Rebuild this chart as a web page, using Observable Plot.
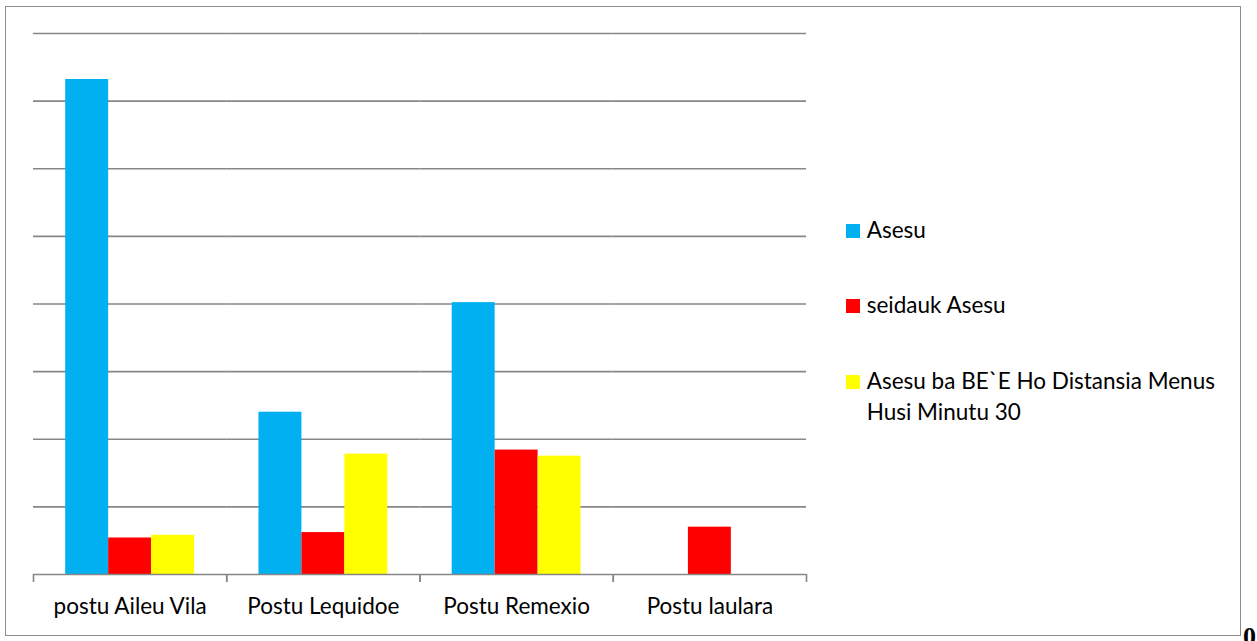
<!DOCTYPE html>
<html>
<head>
<meta charset="utf-8">
<script src="https://cdn.jsdelivr.net/npm/d3@7"></script>
<script src="https://cdn.jsdelivr.net/npm/@observablehq/plot@0.6"></script>
<style>
  html, body { margin: 0; padding: 0; background: #fff; overflow: hidden; }
  #wrap { position: relative; width: 1257px; height: 641px; font-family: Lato, sans-serif; color: #000; overflow: hidden; }
  #chart { position: absolute; left: 0; top: 0; }
  #border { position: absolute; left: 5px; top: 6px; width: 1236px; height: 630px; box-sizing: border-box; border: 1.5px solid #8c8c8c; pointer-events: none; }
  .lg { position: absolute; left: 846px; font-size: 22.5px; line-height: 31px; }
  .lg .sw { position: absolute; left: 0; top: 10px; width: 13.5px; height: 13.5px; }
  .lg .tx { position: absolute; left: 20.7px; top: 0; width: 362px; white-space: normal; }
  #zero { position: absolute; left: 1243px; top: 623.8px; font: bold 26px "Liberation Serif", serif; line-height: 26px; }
</style>
</head>
<body>
<div id="wrap">
  <div id="chart"></div>
  <div id="border"></div>
  <div id="legend"></div>
  <div id="zero">0</div>
</div>
<script>
// ---- data ----
const categories = ["postu Aileu Vila", "Postu Lequidoe", "Postu Remexio", "Postu laulara"];
const seriesNames = ["Asesu", "seidauk Asesu", "Asesu ba BE`E Ho Distansia Menus Husi Minutu 30"];
const asesu = [36.6, 12.0, 20.1, 0];
const seidaukAsesu = [2.7, 3.1, 9.2, 3.5];
const asesuBaBee = [2.9, 8.9, 8.75, 0];
const seriesColors = ["#00B0F0", "#FF0000", "#FFFF00"];
const yTicks = [0, 5, 10, 15, 20, 25, 30, 35, 40];

// ---- table ----
const seriesValues = [asesu, seidaukAsesu, asesuBaBee];
const table = [];
categories.forEach((c, i) => {
  seriesNames.forEach((s, j) => {
    table.push({category: c, series: s, value: seriesValues[j][i]});
  });
});

// ---- layout ----
const W = 1257, H = 641;
const mL = 33, mR = 451, mT = 33, mB = 67;
const step = (W - mL - mR) / categories.length;
const gray = "#878787";

const chart = Plot.plot({
  width: W, height: H,
  marginLeft: mL, marginRight: mR, marginTop: mT, marginBottom: mB,
  style: {fontFamily: "Lato, sans-serif", color: "#000", background: "transparent", overflow: "visible"},
  fx: {domain: categories, padding: 0, round: false},
  x: {domain: seriesNames, paddingInner: 0, paddingOuter: 0.75, round: false, axis: null},
  y: {domain: [0, 40], axis: null},
  color: {domain: seriesNames, range: seriesColors},
  marks: [
    Plot.gridY(yTicks.filter(v => v > 0), {stroke: gray, strokeWidth: 1.6, strokeOpacity: 1}),
    Plot.barY(table, {fx: "category", x: "series", y: "value", fill: "series"}),
    Plot.ruleY([0], {stroke: gray, strokeWidth: 1.6}),
    Plot.axisFx({anchor: "bottom", tickSize: 0, tickPadding: 24, fontSize: 22.5, fill: "#000", label: null}),
    Plot.axisFx({anchor: "bottom", tickSize: 8, fill: "none", stroke: gray, strokeWidth: 1.6, dx: -step / 2, label: null}),
    Plot.axisFx([categories[categories.length - 1]], {anchor: "bottom", tickSize: 8, fill: "none", stroke: gray, strokeWidth: 1.6, dx: step / 2, label: null})
  ]
});
document.getElementById("chart").appendChild(chart);

// ---- legend ----
const rowTops = [214, 289, 365];
const legend = document.getElementById("legend");
seriesNames.forEach((s, j) => {
  const row = document.createElement("div");
  row.className = "lg";
  row.style.top = rowTops[j] + "px";
  const sw = document.createElement("div");
  sw.className = "sw";
  sw.style.background = seriesColors[j];
  const tx = document.createElement("div");
  tx.className = "tx";
  tx.textContent = s;
  row.appendChild(sw);
  row.appendChild(tx);
  legend.appendChild(row);
});
</script>
</body>
</html>
